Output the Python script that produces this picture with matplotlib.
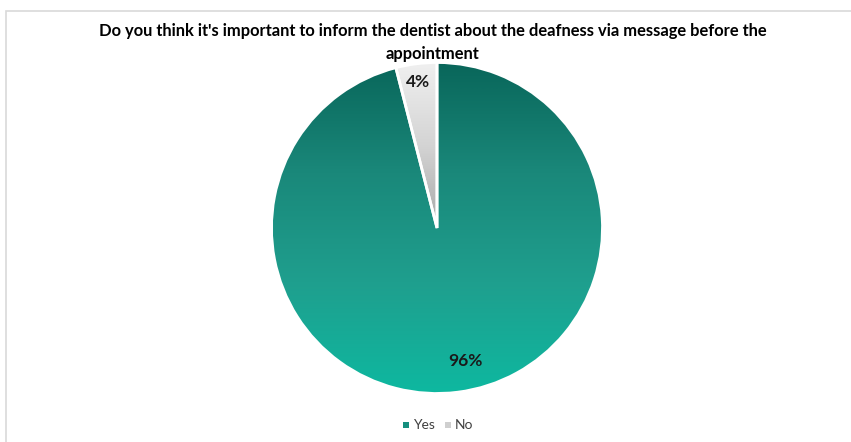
import numpy as np
import matplotlib
matplotlib.use("Agg")
import matplotlib.pyplot as plt
from matplotlib.colors import LinearSegmentedColormap
from matplotlib.patches import Rectangle

plt.rcParams['font.family'] = ['Lato', 'DejaVu Sans']

title = "Do you think it's important to inform the dentist about the deafness via message before the\nappointment"
labels = ["Yes", "No"]
values = [96, 4]
pct_labels = ["96%", "4%"]

W, H = 851, 442
fig = plt.figure(figsize=(W / 100, H / 100), dpi=100)
ax = fig.add_axes([0, 0, 1, 1])
ax.set_xlim(0, W)
ax.set_ylim(0, H)
ax.set_aspect('equal')
ax.axis('off')

# chart frame
ax.add_patch(Rectangle((5.5, -20), W + 20, H - 10.5 + 20, fill=False,
                       edgecolor='#d9d9d9', linewidth=1.2))

cx, cy, R = 437, H - 228, 165.5
wedges, _ = ax.pie(values, startangle=90, counterclock=False, center=(cx, cy),
                   radius=R, colors=['none', 'none'],
                   wedgeprops=dict(edgecolor='white', linewidth=2.0))
ax.set_xlim(0, W)
ax.set_ylim(0, H)

yes_cmap = LinearSegmentedColormap.from_list(
    'yes', ['#09665a', '#1a887a', '#1f9f8e', '#0eb8a0'])
no_cmap = LinearSegmentedColormap.from_list('no', ['#f0f0f0', '#d4d4d4', '#a8a8a8'])

grad = np.linspace(0, 1, 256).reshape(-1, 1)
extent = (cx - R, cx + R, cy - R, cy + R)
for w, cmap, ext in [(wedges[0], yes_cmap, extent),
                     (wedges[1], no_cmap, (cx - R, cx + R, cy, cy + R))]:
    im = ax.imshow(grad, cmap=cmap, aspect='auto', extent=ext,
                   origin='upper', zorder=1, interpolation='bicubic')
    im.set_clip_path(w)
    w.set_zorder(2)

ax.text(465, H - 361, pct_labels[0], ha='center', va='center',
        fontsize=12.5, fontweight='bold', color='#1a1a1a', zorder=3)
ax.text(418, H - 82, pct_labels[1], ha='center', va='center',
        fontsize=12.5, fontweight='bold', color='#1a1a1a', zorder=3)

ax.text(433, H - 42.5, title, ha='center', va='center', fontsize=11.9,
        fontweight='bold', color='#000000', linespacing=1.55)

# legend
sq = 6
for (x0, c, t) in [(403, '#168f7e', labels[0]), (445, '#cfcfcf', labels[1])]:
    ax.add_patch(Rectangle((x0, H - 425 - sq / 2), sq, sq, facecolor=c,
                           edgecolor='none'))
    ax.text(x0 + sq + 4, H - 425, t, ha='left', va='center',
            fontsize=10, color='#404040')

fig.savefig('out.png', dpi=100, facecolor='white')
